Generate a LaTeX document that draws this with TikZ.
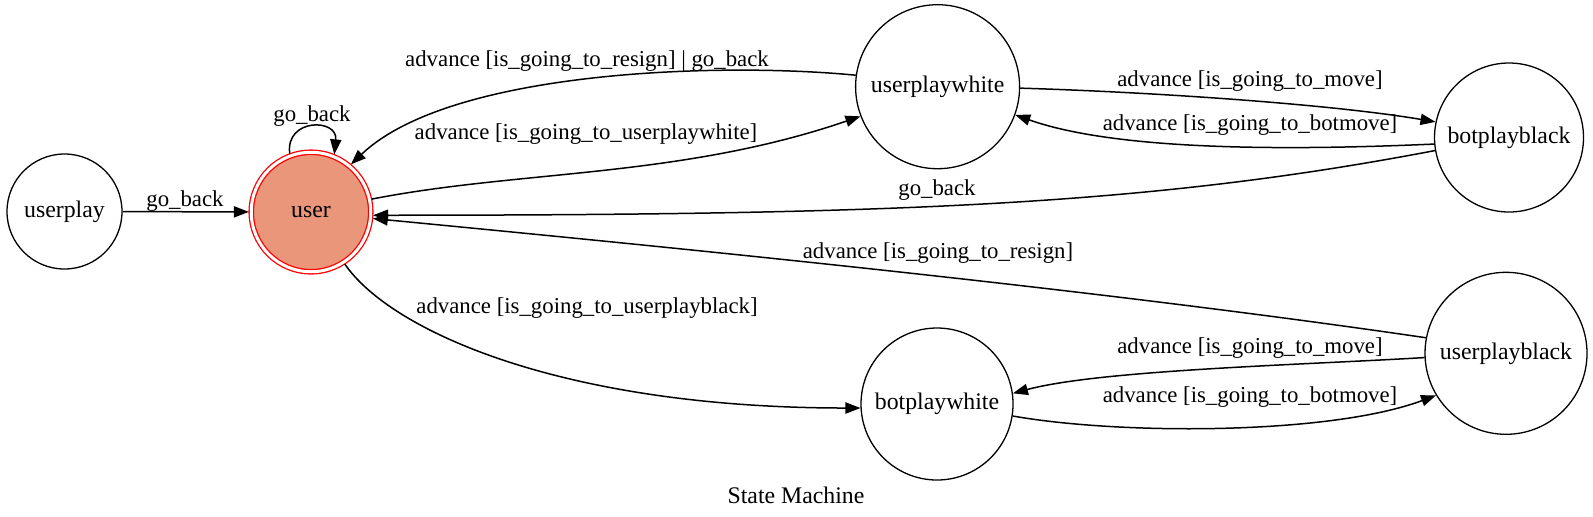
\documentclass[tikz,border=0pt]{standalone}
\usepackage{fontspec}
\setmainfont{Liberation Serif}
\usetikzlibrary{arrows.meta}
\definecolor{usersalmon}{RGB}{233,150,122}
\begin{document}
\begin{tikzpicture}[x=0.5pt,y=-0.5pt,
  state/.style={circle,draw=black,line width=0.65pt,inner sep=0pt,font=\fontsize{11.9pt}{14pt}\selectfont},
  edgelbl/.style={inner sep=0pt,font=\fontsize{11.4pt}{13pt}\selectfont},
  trans/.style={draw=black,line width=0.75pt,-{Triangle[length=7.5pt,width=5.6pt]}}]
\useasboundingbox (0,0) rectangle (1593,516);
% states
\node[state,minimum size=57.5pt] (userplay) at (64.5,211.5) {userplay};
\node[state,draw=red,fill=usersalmon,double=white,double distance=1.5pt,minimum size=59.75pt,outer sep=1.2pt] (user) at (311,212) {user};
\node[state,minimum size=82pt] (userplaywhite) at (937.6,86.7) {userplaywhite};
\node[state,minimum size=74.5pt] (botplayblack) at (1509,137.5) {botplayblack};
\node[state,minimum size=76pt] (botplaywhite) at (937,404) {botplaywhite};
\node[state,minimum size=81pt] (userplayblack) at (1506,353.3) {userplayblack};
% transitions
\draw[trans] (userplay) -- (user);
\draw[trans] (user.110) .. controls (285,118) and (338,118) .. (user.68);
\draw[trans] (user.12) .. controls (520,170) and (680,178) .. (userplaywhite.201);
\draw[trans] (userplaywhite.172) .. controls (720,62) and (450,70) .. (user.50);
\draw[trans] (userplaywhite.-1) .. controls (1150,92) and (1330,104) .. (botplayblack.168);
\draw[trans] (botplayblack.185) .. controls (1300,150) and (1120,152) .. (userplaywhite.-20);
\draw[trans] (botplayblack.190.6) .. controls (1150,205) and (900,215) .. (user.-3);
\draw[trans] (userplayblack.169) .. controls (1100,290) and (700,250) .. (user.-6.5);
\draw[trans] (user.-57) .. controls (390,330) and (560,408) .. (botplaywhite.183);
\draw[trans] (userplayblack.183) .. controls (1300,365) and (1100,370) .. (botplaywhite.8);
\draw[trans] (botplaywhite.-9) .. controls (1120,435) and (1330,435) .. (userplayblack.211);
% labels
\node[edgelbl] (l1) at (185,201.5) {go\_back};
\node[edgelbl] (l2) at (312,116) {go\_back};
\node[edgelbl] (l3) at (587,61) {advance [is\_going\_to\_resign] | go\_back};
\node[edgelbl] (l4) at (586,134) {advance [is\_going\_to\_userplaywhite]};
\node[edgelbl] (l5) at (1250,81) {advance [is\_going\_to\_move]};
\node[edgelbl] (l6) at (1250,125.5) {advance [is\_going\_to\_botmove]};
\node[edgelbl] (l7) at (937,190) {go\_back};
\node[edgelbl] (l8) at (938,253) {advance [is\_going\_to\_resign]};
\node[edgelbl] (l9) at (587,308) {advance [is\_going\_to\_userplayblack]};
\node[edgelbl] (l10) at (1250,348) {advance [is\_going\_to\_move]};
\node[edgelbl] (l11) at (1250,397) {advance [is\_going\_to\_botmove]};
\node[edgelbl,font=\fontsize{11.9pt}{14pt}\selectfont] (title) at (796,495) {State Machine};
\end{tikzpicture}
\end{document}
